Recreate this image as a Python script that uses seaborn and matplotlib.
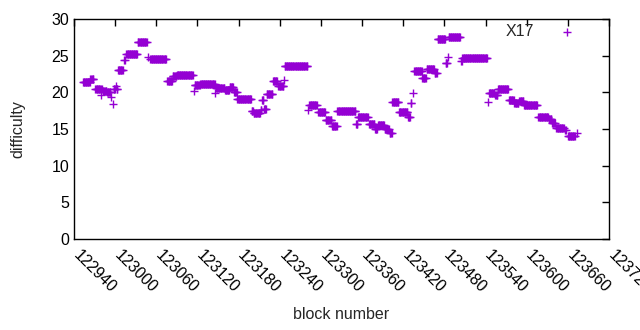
import numpy as np
import pandas as pd
import seaborn as sns
import matplotlib
matplotlib.use("Agg")
import matplotlib.pyplot as plt
import matplotlib.transforms as mtransforms

# runs of consecutive blocks sharing one difficulty
run_start = [122953, 122964, 122971, 122979, 122980, 122982, 122988, 122994, 122997, 122998,
             123001, 123002, 123004, 123013, 123016, 123033, 123048, 123051, 123076, 123084,
             123090, 123115, 123116, 123124, 123146, 123147, 123160, 123167, 123173, 123178,
             123199, 123202, 123212, 123214, 123217, 123221, 123230, 123238, 123246, 123247,
             123281, 123283, 123296, 123307, 123316, 123324, 123351, 123354, 123370, 123379,
             123383, 123393, 123400, 123404, 123414, 123427, 123431, 123434, 123436, 123448,
             123454, 123466, 123470, 123482, 123485, 123486, 123504, 123506, 123544, 123545,
             123554, 123558, 123574, 123582, 123589, 123596, 123617, 123632, 123637, 123643,
             123656, 123660, 123673]
run_end = [122963, 122968, 122978, 122979, 122981, 122987, 122993, 122994, 122997, 123000,
           123001, 123003, 123011, 123014, 123032, 123046, 123048, 123074, 123083, 123089,
           123113, 123115, 123123, 123145, 123146, 123159, 123166, 123172, 123177, 123198,
           123201, 123211, 123213, 123216, 123220, 123229, 123236, 123245, 123246, 123280,
           123281, 123294, 123306, 123315, 123323, 123350, 123353, 123368, 123378, 123382,
           123392, 123399, 123403, 123413, 123426, 123430, 123432, 123434, 123447, 123453,
           123465, 123469, 123481, 123484, 123485, 123503, 123505, 123542, 123544, 123553,
           123557, 123573, 123581, 123588, 123595, 123615, 123631, 123636, 123641, 123654,
           123657, 123670, 123673]
run_diff = [21.4, 21.8, 20.5, 19.6, 20.5, 20.2, 20.0, 19.4, 18.4, 20.5,
            20.8, 20.4, 23.0, 24.4, 25.2, 26.9, 24.8, 24.5, 21.5, 22.2,
            22.4, 20.2, 21.0, 21.1, 19.9, 20.6, 20.3, 20.7, 20.0, 19.1,
            17.5, 17.2, 17.6, 19.0, 17.7, 19.8, 21.5, 20.8, 21.7, 23.6,
            17.6, 18.3, 17.3, 16.2, 15.4, 17.4, 15.7, 16.6, 15.7, 15.0,
            15.5, 15.0, 14.5, 18.7, 17.3, 16.6, 18.5, 19.9, 22.9, 21.9,
            23.2, 22.6, 27.3, 24.0, 24.8, 27.6, 24.3, 24.7, 18.7, 19.9,
            19.6, 20.5, 19.0, 18.5, 18.8, 18.3, 16.7, 16.3, 15.8, 15.2,
            14.9, 14.0, 14.4]

x_ticks = list(range(122940, 123721, 60))

blocks, diffs = [], []
for s, e, d in zip(run_start, run_end, run_diff):
    for b in range(s, e + 1):
        blocks.append(b)
        diffs.append(d)
df = pd.DataFrame({"block number": blocks, "difficulty": diffs})

sns.set_style("white")
plt.rcParams["font.family"] = ["Liberation Sans", "DejaVu Sans"]
plt.rcParams["font.size"] = 11.5

fig = plt.figure(figsize=(6.4, 3.3), dpi=100)
ax = fig.add_axes([74 / 640, 91 / 330, 535 / 640, 220 / 330])

sns.scatterplot(data=df, x="block number", y="difficulty", ax=ax, marker="+",
                s=30, linewidth=1.0, color="#9400d3", label="X17")

ax.set_xlim(122940, 123720)
ax.set_ylim(0, 30)
ax.set_xticks(x_ticks)
ax.set_xticklabels([str(t) for t in x_ticks], rotation=-45, ha="left", va="top",
                   rotation_mode="anchor")
ax.set_yticks(range(0, 31, 5))
ax.tick_params(direction="in", length=5, width=1, top=True, right=True, colors="black",
               labelsize=11.5)
ax.tick_params(axis="x", pad=6)
shift = mtransforms.ScaledTranslation(7 / 100, 0, fig.dpi_scale_trans)
for lab in ax.get_xticklabels():
    lab.set_transform(lab.get_transform() + shift)
for sp in ax.spines.values():
    sp.set_color("black")
    sp.set_linewidth(1)
ax.set_xlabel("block number", labelpad=8.5)
ax.set_ylabel("difficulty", labelpad=19)

ax.legend(loc="upper right", bbox_to_anchor=(0.9637, 1.006), frameon=False,
          markerfirst=False, scatterpoints=1, handletextpad=1.1, borderaxespad=0,
          fontsize=11.5)

fig.savefig("out.png", dpi=100)
